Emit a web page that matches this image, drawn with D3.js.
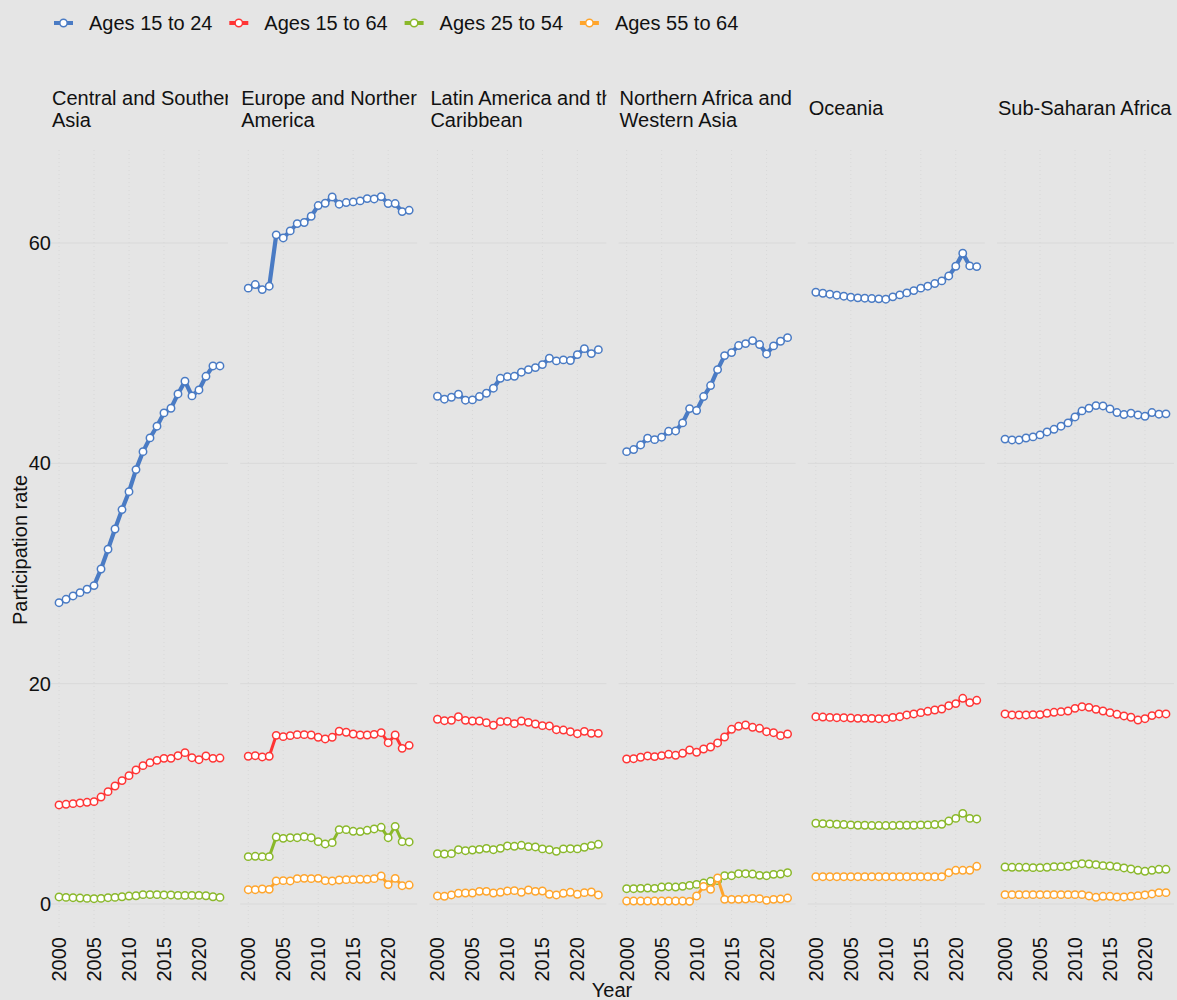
<!DOCTYPE html>
<html><head><meta charset="utf-8">
<script src="https://cdn.jsdelivr.net/npm/d3@7"></script>
<style>
body{margin:0;background:#e5e5e5;}
svg{display:block;font-family:"Liberation Sans",Arial,sans-serif;}
</style>
</head><body>
<svg id="c" width="1177" height="1000"></svg>
<script>
const years = [2000,2001,2002,2003,2004,2005,2006,2007,2008,2009,2010,2011,2012,2013,2014,2015,2016,2017,2018,2019,2020,2021,2022,2023];
const regions = ["Central and Southern Asia","Europe and Northern America","Latin America and the Caribbean","Northern Africa and Western Asia","Oceania","Sub-Saharan Africa"];
const stripLines = [["Central and Southern","Asia"],["Europe and Northern","America"],["Latin America and the","Caribbean"],["Northern Africa and","Western Asia"],["Oceania"],["Sub-Saharan Africa"]];
const ageGroups = ["Ages 15 to 24","Ages 15 to 64","Ages 25 to 54","Ages 55 to 64"];
const colors = ["#4a7bc4","#ff3535","#8ab82a","#ffa52c"];
const yTicks = [0,20,40,60];
const xTicks = [2000,2005,2010,2015,2020];

// Central and Southern Asia
const csa_15_24 = [27.35,27.66,27.96,28.26,28.57,28.9,30.41,32.2,34.04,35.8,37.43,39.43,41.06,42.31,43.37,44.58,45.0,46.3,47.45,46.12,46.66,47.9,48.84,48.84];
const csa_15_64 = [8.99,9.05,9.11,9.17,9.23,9.29,9.71,10.2,10.71,11.2,11.65,12.17,12.56,12.83,13.04,13.22,13.22,13.46,13.74,13.28,13.1,13.44,13.22,13.25];
const csa_25_54 = [0.64,0.6,0.57,0.54,0.51,0.48,0.51,0.57,0.6,0.66,0.72,0.75,0.85,0.85,0.85,0.82,0.82,0.78,0.78,0.78,0.78,0.75,0.66,0.6];
// Europe and Northern America
const ena_15_24 = [55.9,56.23,55.77,56.08,60.74,60.46,61.1,61.76,61.86,62.43,63.4,63.61,64.18,63.52,63.67,63.73,63.82,64.03,64.0,64.21,63.58,63.58,62.85,62.97];
const ena_15_64 = [13.41,13.46,13.35,13.41,15.31,15.19,15.28,15.37,15.37,15.34,15.13,14.98,15.13,15.68,15.59,15.43,15.34,15.34,15.4,15.55,14.64,15.34,14.13,14.4];
const ena_25_54 = [4.3,4.33,4.3,4.3,6.08,5.96,6.02,6.02,6.11,6.02,5.66,5.45,5.57,6.75,6.75,6.6,6.57,6.69,6.81,6.96,6.02,7.05,5.66,5.63];
const ena_55_64 = [1.3,1.3,1.36,1.33,2.09,2.12,2.09,2.3,2.33,2.3,2.33,2.12,2.09,2.18,2.21,2.21,2.24,2.24,2.3,2.54,1.76,2.33,1.66,1.72];
// Latin America and the Caribbean
const lac_15_24 = [46.09,45.82,46.0,46.27,45.73,45.76,46.06,46.36,46.82,47.72,47.87,47.9,48.27,48.51,48.69,48.96,49.54,49.3,49.39,49.33,49.87,50.41,49.96,50.32];
const lac_15_64 = [16.77,16.64,16.67,17.0,16.67,16.61,16.61,16.46,16.22,16.55,16.58,16.37,16.61,16.49,16.34,16.19,16.16,15.82,15.79,15.64,15.46,15.67,15.49,15.49];
const lac_25_54 = [4.57,4.54,4.57,4.93,4.84,4.9,4.96,5.05,4.93,5.05,5.27,5.24,5.33,5.21,5.18,5.0,4.93,4.78,5.0,5.02,5.0,5.15,5.3,5.42];
const lac_55_64 = [0.73,0.7,0.82,0.97,1.0,1.0,1.15,1.15,1.0,1.06,1.18,1.21,1.06,1.27,1.15,1.18,0.88,0.82,0.97,1.06,0.88,1.03,1.09,0.82];
// Northern Africa and Western Asia
const nawa_15_24 = [41.06,41.25,41.67,42.28,42.15,42.37,42.91,42.94,43.67,44.97,44.79,46.06,47.06,48.51,49.78,50.05,50.69,50.87,51.14,50.78,49.93,50.66,51.08,51.41];
const nawa_15_64 = [13.16,13.19,13.32,13.44,13.38,13.47,13.59,13.5,13.68,13.98,13.77,14.07,14.25,14.62,15.16,15.86,16.13,16.25,16.04,15.95,15.64,15.55,15.28,15.43];
const nawa_25_54 = [1.39,1.39,1.42,1.45,1.42,1.54,1.57,1.54,1.6,1.69,1.78,1.9,2.06,2.12,2.57,2.57,2.75,2.75,2.72,2.6,2.57,2.69,2.72,2.84];
const nawa_55_64 = [0.27,0.27,0.27,0.27,0.27,0.27,0.27,0.27,0.27,0.24,0.73,1.6,1.33,2.36,0.42,0.42,0.42,0.45,0.51,0.48,0.33,0.42,0.45,0.54];
// Oceania
const oce_15_24 = [55.53,55.44,55.35,55.26,55.17,55.08,55.02,54.99,54.96,54.93,54.9,55.11,55.29,55.47,55.68,55.9,56.08,56.32,56.56,57.01,57.89,59.07,57.92,57.86];
const oce_15_64 = [17.0,16.97,16.94,16.91,16.91,16.88,16.85,16.85,16.85,16.82,16.82,16.94,17.0,17.16,17.25,17.37,17.49,17.61,17.7,18.0,18.19,18.67,18.28,18.49];
const oce_25_54 = [7.33,7.3,7.27,7.24,7.21,7.18,7.15,7.15,7.12,7.12,7.12,7.12,7.15,7.15,7.15,7.18,7.18,7.21,7.24,7.53,7.77,8.23,7.77,7.72];
const oce_55_64 = [2.48,2.48,2.48,2.48,2.48,2.48,2.48,2.48,2.48,2.48,2.48,2.48,2.48,2.48,2.48,2.48,2.48,2.48,2.48,2.84,3.06,3.06,3.06,3.42];
// Sub-Saharan Africa
const ssa_15_24 = [42.2,42.12,42.12,42.3,42.4,42.58,42.85,43.09,43.37,43.67,44.21,44.76,45.0,45.24,45.21,44.94,44.61,44.43,44.55,44.39,44.27,44.61,44.46,44.49];
const ssa_15_64 = [17.25,17.16,17.16,17.16,17.19,17.19,17.31,17.4,17.46,17.52,17.76,17.91,17.85,17.67,17.52,17.37,17.22,17.07,16.95,16.7,16.82,17.1,17.25,17.25];
const ssa_25_54 = [3.36,3.33,3.33,3.33,3.3,3.3,3.33,3.39,3.39,3.42,3.57,3.66,3.63,3.57,3.48,3.45,3.39,3.27,3.18,3.06,2.97,3.06,3.15,3.15];
const ssa_55_64 = [0.85,0.85,0.85,0.85,0.85,0.85,0.85,0.85,0.85,0.85,0.85,0.85,0.73,0.61,0.7,0.7,0.64,0.64,0.7,0.76,0.82,0.91,1.03,1.03];

const seriesByRegion = [
  [csa_15_24, csa_15_64, csa_25_54, null],
  [ena_15_24, ena_15_64, ena_25_54, ena_55_64],
  [lac_15_24, lac_15_64, lac_25_54, lac_55_64],
  [nawa_15_24, nawa_15_64, nawa_25_54, nawa_55_64],
  [oce_15_24, oce_15_64, oce_25_54, oce_55_64],
  [ssa_15_24, ssa_15_64, ssa_25_54, ssa_55_64]
];

const svg = d3.select("#c");
const W = 1177, H = 1000;
svg.append("rect").attr("width", W).attr("height", H).attr("fill", "#e5e5e5");

const panelLeft0 = 51, panelStep = 189.2, panelW = 177;
const panelTop = 150, panelBottom = 930;
const y = d3.scaleLinear().domain([0, 60]).range([904, 243]);
const lineW = [4.2, 3, 3, 3];
const font = 20;
const R = 3.7;

regions.forEach((reg, i) => {
  const left = panelLeft0 + i * panelStep;
  const x = d3.scaleLinear().domain([2000 - 1.15, 2023 + 1.15]).range([left, left + panelW]);
  const g = svg.append("g");

  // vertical dotted grid
  g.selectAll(".vg").data(xTicks).join("line")
    .attr("x1", d => x(d)).attr("x2", d => x(d))
    .attr("y1", panelTop).attr("y2", panelBottom)
    .attr("stroke", "#d8d8d8").attr("stroke-width", 1).attr("stroke-dasharray", "1,3");
  // horizontal grid
  g.selectAll(".hg").data(yTicks).join("line")
    .attr("x1", left).attr("x2", left + panelW)
    .attr("y1", d => y(d)).attr("y2", d => y(d))
    .attr("stroke", "#d9d9d9").attr("stroke-width", 1);

  // strip title
  const cid = "clip" + i;
  svg.append("clipPath").attr("id", cid).append("rect")
    .attr("x", left).attr("y", 70).attr("width", panelW).attr("height", 70);
  const lines = stripLines[i];
  const st = g.append("text").attr("clip-path", `url(#${cid})`)
    .attr("font-size", font).attr("fill", "#111");
  lines.forEach((ln, k) => {
    const base = lines.length === 1 ? 115 : 105 + k * 22;
    st.append("tspan").attr("x", left + 1).attr("y", base).text(ln);
  });

  // x tick labels
  g.selectAll(".xt").data(xTicks).join("text")
    .attr("transform", d => `translate(${x(d)},937) rotate(-90)`)
    .attr("text-anchor", "end").attr("dy", "0.35em")
    .attr("font-size", font).attr("fill", "#111")
    .text(d => d);

  // series
  seriesByRegion[i].forEach((vals, s) => {
    if (!vals) return;
    const pts = years.map((yr, k) => ({yr, v: vals[k]}));
    g.append("path").datum(pts)
      .attr("d", d3.line().x(d => x(d.yr)).y(d => y(d.v)))
      .attr("fill", "none").attr("stroke", colors[s]).attr("stroke-width", lineW[s])
      .attr("stroke-linejoin", "round");
    g.selectAll(null).data(pts).join("circle")
      .attr("cx", d => x(d.yr)).attr("cy", d => y(d.v)).attr("r", R)
      .attr("fill", "#fff").attr("stroke", colors[s]).attr("stroke-width", 1.5);
  });
});

// y tick labels
svg.selectAll(".yt").data(yTicks).join("text")
  .attr("x", 51).attr("y", d => y(d)).attr("dy", "0.35em")
  .attr("text-anchor", "end").attr("font-size", font).attr("fill", "#111")
  .text(d => d);

// axis titles
svg.append("text").attr("x", 612).attr("y", 997).attr("text-anchor", "middle")
  .attr("font-size", font).attr("fill", "#111").text("Year");
svg.append("text").attr("transform", "translate(27,550) rotate(-90)")
  .attr("text-anchor", "middle").attr("font-size", font).attr("fill", "#111")
  .text("Participation rate");

// legend
const lg = svg.append("g");
ageGroups.forEach((a, i) => {
  const x0 = 54 + i * 175.3;
  const it = lg.append("g");
  it.append("line").attr("x1", x0).attr("x2", x0 + 19).attr("y1", 23).attr("y2", 23)
    .attr("stroke", colors[i]).attr("stroke-width", 4);
  it.append("circle").attr("cx", x0 + 9.5).attr("cy", 23).attr("r", R)
    .attr("fill", "#fff").attr("stroke", colors[i]).attr("stroke-width", 1.5);
  it.append("text").attr("x", x0 + 35).attr("y", 23).attr("dy", "0.35em")
    .attr("font-size", font).attr("fill", "#111").text(a);
});
</script>
</body></html>
